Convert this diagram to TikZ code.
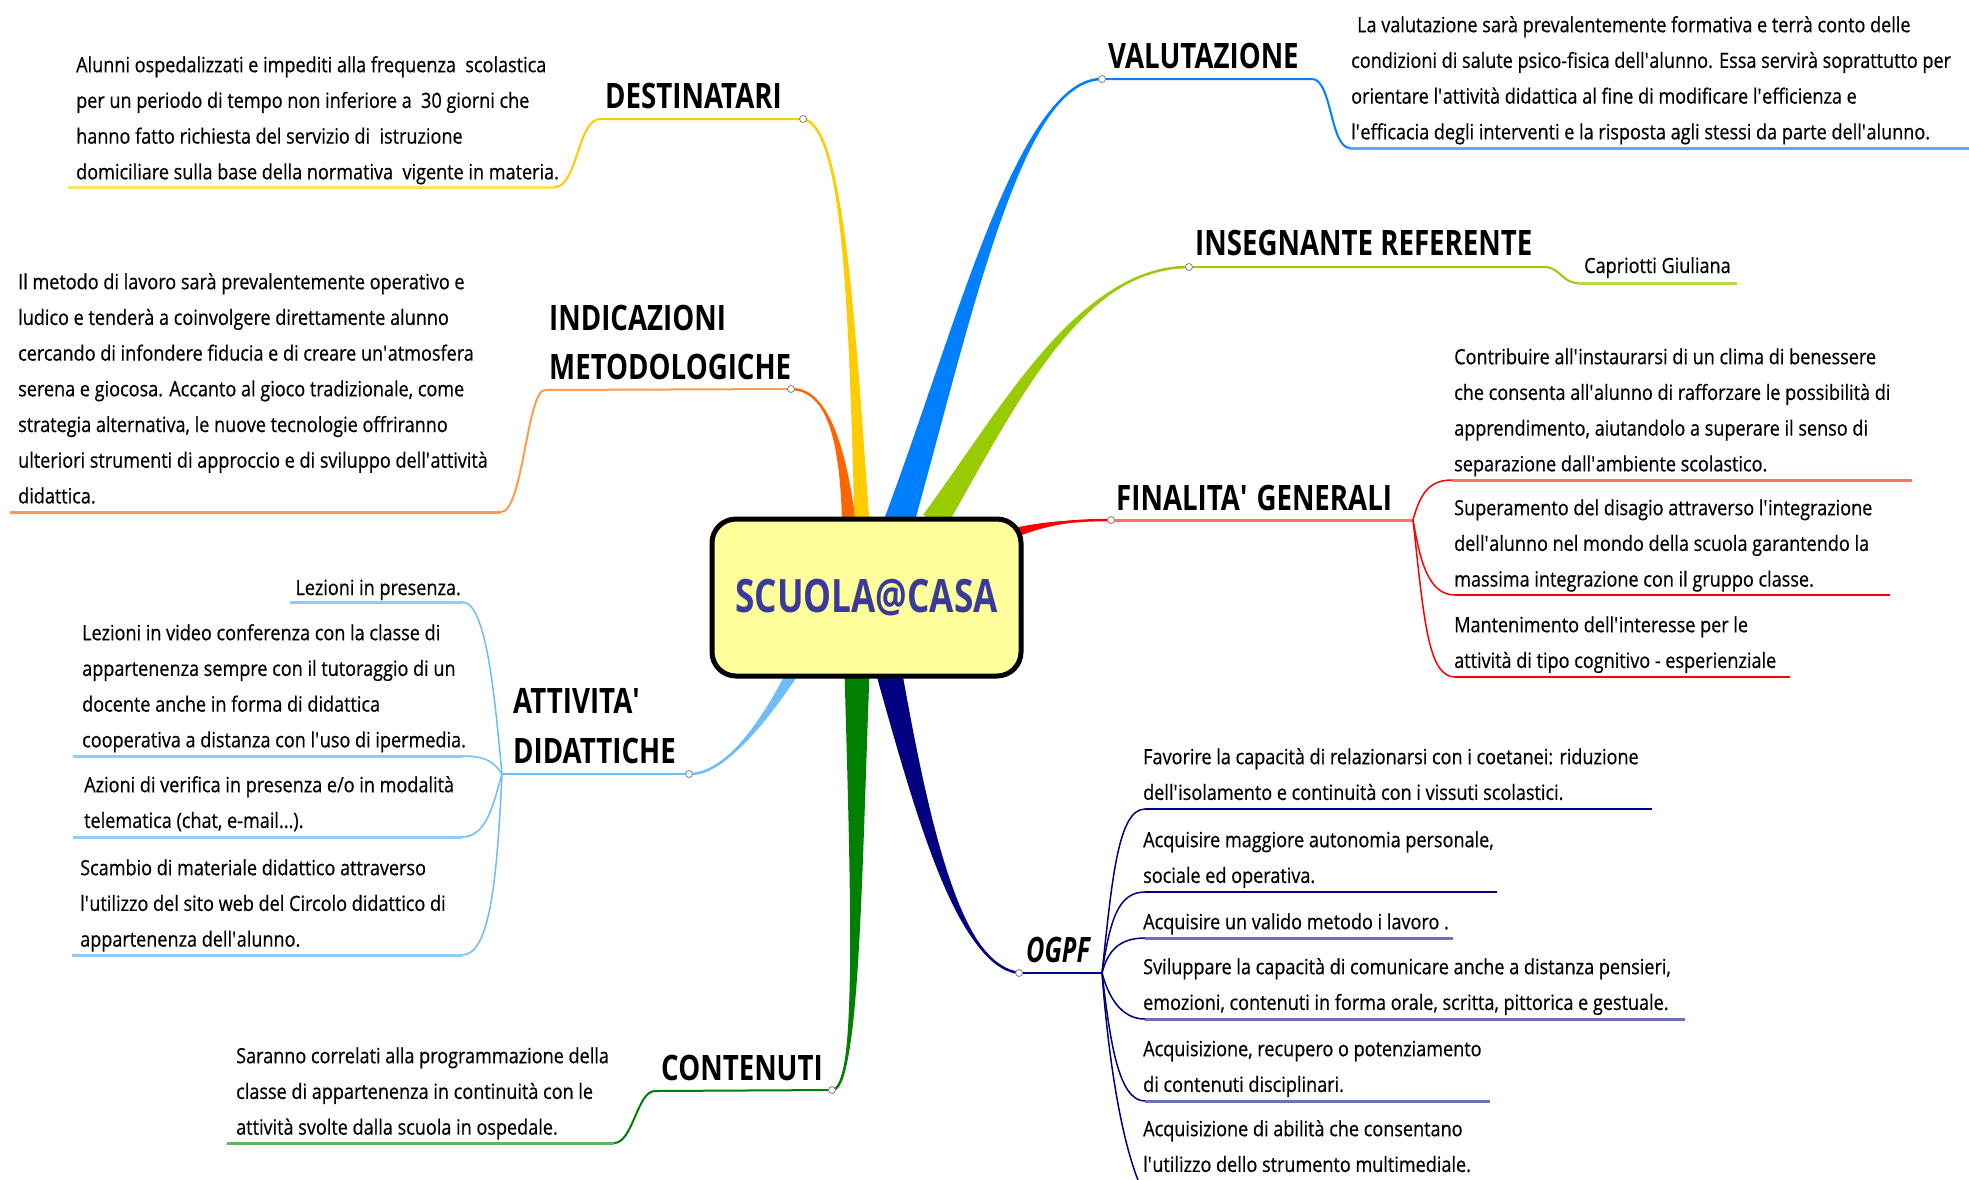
\documentclass[tikz,border=0pt]{standalone}
\usepackage{fontspec}
\usetikzlibrary{calc}
\newfontfamily\mf[FakeStretch=0.86,FakeBold=0.5]{Open Sans}
\newfontfamily\tf[FakeStretch=0.79]{Open Sans}
\newfontfamily\of[FakeStretch=0.72]{Open Sans}
\newfontfamily\cf[FakeStretch=0.765]{Open Sans}
\newcommand\ap{\textquotesingle}
\newcommand\bs{\rule{0pt}{17pt}}
\newcommand\ts{\rule{0pt}{26pt}}
\definecolor{cDes}{HTML}{FFCC00}\definecolor{cDesL}{HTML}{FFE066}
\definecolor{cInd}{HTML}{FF6600}\definecolor{cIndL}{HTML}{FF9A50}
\definecolor{cAtt}{HTML}{70BCF8}\definecolor{cAttL}{HTML}{8DCBFA}
\definecolor{cCon}{HTML}{008000}\definecolor{cConL}{HTML}{5DB85D}
\definecolor{cVal}{HTML}{0080FF}\definecolor{cValL}{HTML}{5AAAFF}
\definecolor{cIns}{HTML}{99CC00}\definecolor{cInsL}{HTML}{B5DB4D}
\definecolor{cFin}{HTML}{FF0000}\definecolor{cFinL}{HTML}{FF7070}
\definecolor{cOgp}{HTML}{000080}\definecolor{cOgpL}{HTML}{7070B8}
\definecolor{boxfill}{HTML}{FFFF9C}
\definecolor{rootText}{HTML}{3A3A9C}
\newcommand\branch[6]{%
  \fill[#1] ($(#2)+(#6)$) .. controls ($#3+0.4*(#6)$) and ($#4+0.1*(#6)$) .. (#5)
     .. controls ($#4-0.1*(#6)$) and ($#3-0.4*(#6)$) .. ($(#2)-(#6)$) -- cycle;
  \draw[#1, line width=2.5pt] (#2) .. controls #3 and #4 .. (#5);
}
\tikzset{
  body/.style={font=\mf\fontsize{21}{35.7}\selectfont, inner sep=0pt, align=left, anchor=north west},
  ttl/.style={font=\tf\bfseries\fontsize{35}{49}\selectfont, inner sep=0pt, align=left, anchor=north west},
  knob/.style={circle, draw=gray, fill=white, line width=0.8pt, inner sep=0pt, minimum size=7pt},
  rootbox/.style={draw=black, line width=5pt, fill=boxfill, rounded corners=24pt,
     minimum width=309pt, minimum height=157pt, inner sep=0pt,
     font=\cf\bfseries\fontsize{46}{46}\selectfont, text=rootText},
  tline/.style={line width=2pt},
  uline/.style={line width=3pt},
  cline/.style={line width=1.5pt},
}
\begin{document}
\begin{tikzpicture}[x=1pt,y=-1pt]
\fill[white] (0,0) rectangle (1969,1179);
\useasboundingbox (0,0) rectangle (1969,1179);

% key points
\coordinate (dDes) at (803,119);
\coordinate (dInd) at (791,389);
\coordinate (dAtt) at (689,774);
\coordinate (dCon) at (832,1090);
\coordinate (dVal) at (1102,79);
\coordinate (dIns) at (1189,267);
\coordinate (dFin) at (1111,520);
\coordinate (dOgp) at (1019,973);
\coordinate (fAtt) at (502,774);
\coordinate (fFin) at (1413,520);
\coordinate (fOgp) at (1102,973);
\coordinate (sDes) at (862,522);
\coordinate (sInd) at (849,522);
\coordinate (sVal) at (899,522);
\coordinate (sIns) at (934,522);
\coordinate (sFin) at (1017,532);
\coordinate (sAtt) at (793,672);
\coordinate (sCon) at (857,672);
\coordinate (sOgp) at (889,672);

% title underlines and text underlines
\draw[cDes, tline] (dDes) -- (600,119) .. controls (578,119) and (577,187) .. (555,187);
\draw[cDesL, uline] (555,187) -- (68,187);
\draw[cIndL, tline] (dInd) -- (545,390) .. controls (527,390) and (523,512) .. (501,512);
\draw[cIndL, uline] (501,512) -- (10,512);
\draw[cCon, tline] (dCon) -- (655,1091) .. controls (637,1091) and (633,1143) .. (614,1143);
\draw[cConL, uline] (614,1143) -- (227,1143);
\draw[cVal, tline] (dVal) -- (1312,79) .. controls (1332,79) and (1330,148) .. (1350,148);
\draw[cValL, uline] (1350,148) -- (1969,148);
\draw[cIns, tline] (dIns) -- (1544,267) .. controls (1560,267) and (1562,283) .. (1578,283);
\draw[cInsL, uline] (1578,283) -- (1737,283);
\draw[cAtt, tline] (dAtt) -- (fAtt);
\draw[cFinL, uline] (dFin) -- (fFin);
\draw[cOgp, tline] (dOgp) -- (fOgp);

% ATTIVITA children
\draw[cAtt, cline] (fAtt) .. controls (494,690) and (486,602) .. (462,602);
\draw[cAttL, uline] (462,602) -- (290,602);
\draw[cAtt, cline] (fAtt) .. controls (494,762) and (486,756) .. (462,756);
\draw[cAttL, uline] (462,756) -- (73,756);
\draw[cAtt, cline] (fAtt) .. controls (494,800) and (488,837) .. (462,837);
\draw[cAttL, uline] (462,837) -- (73,837);
\draw[cAtt, cline] (fAtt) .. controls (497,880) and (490,955) .. (462,955);
\draw[cAttL, uline] (462,955) -- (72,955);

% FINALITA children
\draw[cFin, cline] (fFin) .. controls (1420,495) and (1428,480) .. (1452,480);
\draw[cFinL, uline] (1452,480) -- (1912,480);
\draw[cFin, cline] (fFin) .. controls (1420,560) and (1428,595) .. (1455,595);
\draw[cFin, tline] (1455,595) -- (1890,595);
\draw[cFin, cline] (fFin) .. controls (1424,620) and (1428,677) .. (1455,677);
\draw[cFin, tline] (1455,677) -- (1790,677);

% OGPF children
\draw[cOgp, cline] (fOgp) .. controls (1112,880) and (1118,809) .. (1145,809);
\draw[cOgp, tline] (1145,809) -- (1652,809);
\draw[cOgp, cline] (fOgp) .. controls (1110,920) and (1118,892) .. (1145,892);
\draw[cOgp, tline] (1145,892) -- (1497,892);
\draw[cOgp, cline] (fOgp) .. controls (1108,950) and (1120,938) .. (1145,938);
\draw[cOgpL, uline] (1145,938) -- (1453,938);
\draw[cOgp, cline] (fOgp) .. controls (1108,995) and (1120,1019) .. (1145,1019);
\draw[cOgpL, uline] (1145,1019) -- (1685,1019);
\draw[cOgp, cline] (fOgp) .. controls (1110,1040) and (1118,1101) .. (1145,1101);
\draw[cOgpL, uline] (1145,1101) -- (1490,1101);
\draw[cOgp, cline] (fOgp) .. controls (1110,1080) and (1125,1150) .. (1140,1185);

% main tapered branches
\branch{cInd}{sInd}{(843,450)}{(830,389)}{dInd}{7,0}
\branch{cDes}{sDes}{(852,330)}{(845,125)}{dDes}{7.5,0}
\branch{cVal}{sVal}{(965,320)}{(1020,79)}{dVal}{14.2,4.8}
\branch{cIns}{sIns}{(1010,405)}{(1080,267)}{dIns}{10.8,7.3}
\branch{cFin}{sFin}{(1050,522)}{(1080,520)}{dFin}{1.4,4.3}
\branch{cAtt}{sAtt}{(765,720)}{(725,775)}{dAtt}{5,3.3}
\branch{cCon}{sCon}{(856,900)}{(858,1090)}{dCon}{12.5,0}
\branch{cOgp}{sOgp}{(925,830)}{(960,965)}{dOgp}{12.6,-3}

% knobs
\foreach \k in {dDes,dInd,dAtt,dCon,dVal,dIns,dFin,dOgp} \node[knob] at (\k) {};

% central node
\node[rootbox] (root) at (866.5,597.5) {SCUOLA@CASA};

% titles
\node[ttl, anchor=base west] (hDes) at (605,108) {DESTINATARI};
\node[ttl] (hInd) at (549,304) {\ts INDICAZIONI\\METODOLOGICHE};
\node[ttl, font=\tf\bfseries\fontsize{35}{50}\selectfont] (hAtt) at (513,687) {\ts ATTIVITA\ap\\DIDATTICHE};
\node[ttl, anchor=base west] (hCon) at (661,1080) {CONTENUTI};
\node[ttl, anchor=base west] (hVal) at (1108,68) {VALUTAZIONE};
\node[ttl, anchor=base west] (hIns) at (1195,255) {INSEGNANTE REFERENTE};
\node[ttl, anchor=base west] (hFin) at (1116,510) {FINALITA\ap\ GENERALI};
\node[ttl, anchor=base west, font=\of\bfseries\itshape\fontsize{35}{49}\selectfont] (hOgp) at (1026,962) {OGPF};

% texts
\node[body] (tDes) at (76,55) {\bs Alunni ospedalizzati e impediti alla frequenza\ \ scolastica\\per un periodo di tempo non inferiore a\ \ 30 giorni che\\hanno fatto richiesta del servizio di\ \ istruzione\\domiciliare sulla base della normativa\ \ vigente in materia.};
\node[body] (tInd) at (18,272) {\bs Il metodo di lavoro sarà prevalentemente operativo e\\ludico e tenderà a coinvolgere direttamente alunno\\cercando di infondere fiducia e di creare un\ap atmosfera\\serena e giocosa. Accanto al gioco tradizionale, come\\strategia alternativa, le nuove tecnologie offriranno\\ulteriori strumenti di approccio e di sviluppo dell\ap attività\\didattica.};
\node[body, anchor=base east] (tAtt1) at (461,595) {Lezioni in presenza.};
\node[body] (tAtt2) at (82,623) {\bs Lezioni in video conferenza con la classe di\\appartenenza sempre con il tutoraggio di un\\docente anche in forma di didattica\\cooperativa a distanza con l\ap uso di ipermedia.};
\node[body] (tAtt3) at (84,775) {\bs Azioni di verifica in presenza e/o in modalità\\telematica (chat, e-mail...).};
\node[body] (tAtt4) at (80,858) {\bs Scambio di materiale didattico attraverso\\l\ap utilizzo del sito web del Circolo didattico di\\appartenenza dell\ap alunno.};
\node[body] (tCon) at (236,1046) {\bs Saranno correlati alla programmazione della\\classe di appartenenza in continuità con le\\attività svolte dalla scuola in ospedale.};
\node[body] (tVal) at (1351,15) {\bs\hspace{6pt}La valutazione sarà prevalentemente formativa e terrà conto delle\\condizioni di salute psico-fisica dell\ap alunno. Essa servirà soprattutto per\\orientare l\ap attività didattica al fine di modificare l\ap efficienza e\\l\ap efficacia degli interventi e la risposta agli stessi da parte dell\ap alunno.};
\node[body, anchor=base west] (tIns) at (1584,273) {Capriotti Giuliana};
\node[body] (tFin1) at (1454,347) {\bs Contribuire all\ap instaurarsi di un clima di benessere\\che consenta all\ap alunno di rafforzare le possibilità di\\apprendimento, aiutandolo a superare il senso di\\separazione dall\ap ambiente scolastico.};
\node[body] (tFin2) at (1454,498) {\bs Superamento del disagio attraverso l\ap integrazione\\dell\ap alunno nel mondo della scuola garantendo la\\massima integrazione con il gruppo classe.};
\node[body] (tFin3) at (1454,615) {\bs Mantenimento dell\ap interesse per le\\attività di tipo cognitivo - esperienziale};
\node[body] (tOgp1) at (1143,747) {\bs Favorire la capacità di relazionarsi con i coetanei: riduzione\\dell\ap isolamento e continuità con i vissuti scolastici.};
\node[body] (tOgp2) at (1143,830) {\bs Acquisire maggiore autonomia personale,\\sociale ed operativa.};
\node[body] (tOgp3) at (1143,912) {\bs Acquisire un valido metodo i lavoro .};
\node[body] (tOgp4) at (1143,957) {\bs Sviluppare la capacità di comunicare anche a distanza pensieri,\\emozioni, contenuti in forma orale, scritta, pittorica e gestuale.};
\node[body] (tOgp5) at (1143,1039) {\bs Acquisizione, recupero o potenziamento\\di contenuti disciplinari.};
\node[body] (tOgp6) at (1143,1119) {\bs Acquisizione di abilità che consentano\\l\ap utilizzo dello strumento multimediale.};
\end{tikzpicture}
\end{document}
